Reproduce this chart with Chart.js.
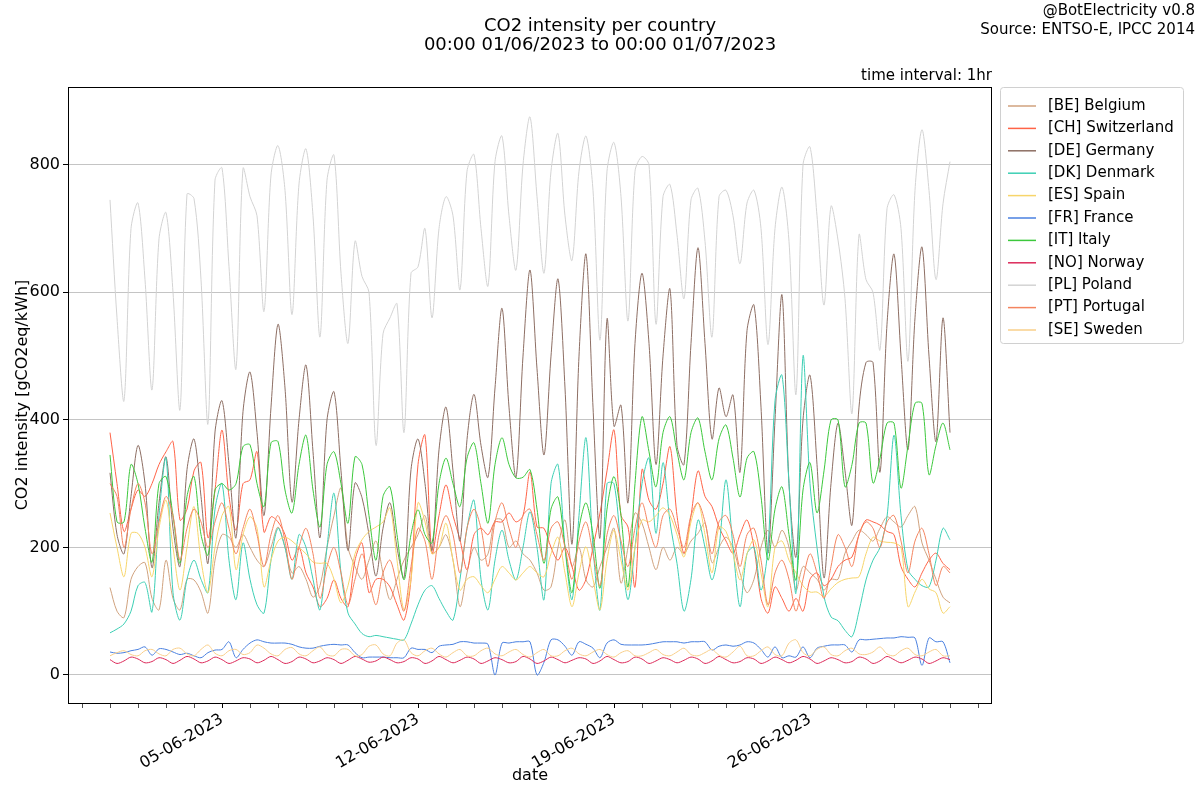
<!DOCTYPE html>
<html>
<head>
<meta charset="utf-8">
<script src="https://cdn.jsdelivr.net/npm/chart.js@4.4.0/dist/chart.umd.min.js"></script>
<style>
  body { margin: 0; background: #fff; }
</style>
</head>
<body>
<canvas id="co2Chart" width="1200" height="800"></canvas>
<script>
// one value every 6 hours, starting 00:00 01/06/2023
const stepHours = 6;

const countries = ['[BE] Belgium', '[CH] Switzerland', '[DE] Germany', '[DK] Denmark', '[ES] Spain',
  '[FR] France', '[IT] Italy', '[NO] Norway', '[PL] Poland', '[PT] Portugal', '[SE] Sweden'];
const colors = ['#d0a27e', '#ff6347', '#8d6e63', '#3ccfb4', '#f7d56a',
  '#4a80e0', '#3cc83c', '#dc2a5a', '#d3d3d3', '#f4845f', '#f9cf8a'];

const beValues = [137,100,90,150, 170,176,120,102, 180,120,102,150, 149,130,97,180, 220,216,200,220,
  200,180,170,200, 232,200,160,170, 150,122,140,200, 250,293,200,170, 150,180,210,160,
  118,150,180,200, 220,250,191,200, 220,180,107,160, 200,180,190,243, 243,200,210,190,
  180,160,133,138, 200,243,170,200, 149,138,170,200, 230,144,200,254, 238,200,165,200,
  180,200,190,210, 222,238,176,200, 216,200,160,129, 150,200,227,200, 227,200,133,170,
  160,150,133,150, 150,191,210,227, 220,210,230,248, 240,232,250,264, 207,180,150,122, 113];
const chValues = [380,300,225,260, 290,280,300,330, 350,366,243,260, 320,333,215,290, 384,280,227,300,
  306,350,224,248, 240,220,180,200, 160,138,107,120, 149,120,107,180, 207,129,150,150,
  138,110,86,150, 330,376,191,250, 298,250,212,165, 220,230,220,240, 240,254,240,250,
  318,232,230,200, 180,200,170,133, 150,200,254,320, 384,250,232,138, 322,274,260,300,
  358,250,191,250, 320,280,264,232, 210,191,220,243, 200,120,97,138, 120,100,120,100,
  150,160,140,150, 170,180,185,220, 243,240,235,225, 220,170,150,138, 160,180,191,175, 165];
const deValues = [317,220,190,280, 360,300,168,270, 342,230,170,322, 370,280,175,381, 430,330,215,413,
  475,380,250,420, 550,450,271,400, 486,350,215,400, 444,320,195,301, 278,220,155,230,
  270,200,152,322, 370,300,195,353, 420,320,210,369, 440,360,310,450, 575,420,310,500,
  635,480,345,500, 621,450,205,500, 660,420,215,558, 390,423,270,520, 630,520,330,500,
  605,360,330,520, 670,520,370,450, 405,439,318,540, 580,420,191,400, 596,300,185,400,
  470,330,152,300, 395,320,235,420, 490,490,318,550, 660,500,353,560, 671,500,366,560, 380];
const dkValues = [66,72,80,100, 140,145,99,250, 340,129,86,150, 180,150,129,260, 300,180,118,207,
  150,110,97,180, 230,200,150,220, 200,150,102,200, 285,160,97,80, 65,60,62,60,
  58,56,55,80, 110,133,140,120, 100,86,150,230, 274,150,102,180, 227,180,149,200,
  256,200,118,300, 330,200,118,250, 372,200,102,300, 300,200,118,200, 300,340,222,333,
  240,175,100,150, 243,200,149,200, 306,200,107,190, 200,133,200,430, 470,300,129,500,
  300,200,123,91, 85,70,60,100, 149,180,200,248, 376,250,165,150, 140,138,180,230, 212];
const esValues = [254,200,154,222, 222,200,154,230, 274,200,133,200, 264,180,129,200, 250,264,165,220,
  248,230,138,180, 210,216,210,200, 190,177,175,175, 150,113,140,190, 212,225,232,240,
  262,180,102,150, 270,240,190,200, 238,180,133,150, 154,140,129,150, 170,160,149,160,
  170,160,154,190, 216,160,107,160, 201,150,102,180, 227,180,133,200, 243,240,250,262,
  250,220,185,240, 270,220,160,232, 225,190,149,190, 212,160,107,200, 210,180,160,140,
  130,130,123,135, 145,150,152,154, 190,216,210,208, 207,200,107,130, 150,135,129,97, 107];
const frValues = [36,34,35,38, 40,44,31,41, 40,36,32,34, 30,27,35,39, 40,52,27,40,
  50,55,52,50, 50,50,48,44, 42,42,45,47, 48,47,47,35, 27,28,28,28,
  27,27,27,42, 40,40,35,45, 47,48,52,52, 50,50,48,0, 50,50,52,52,
  52,0,20,55, 55,45,31,52, 48,42,27,50, 55,48,47,47, 47,48,50,52,
  52,52,50,52, 52,52,39,45, 47,45,47,52, 50,40,28,44, 27,30,28,44,
  27,42,45,47, 47,47,36,55, 55,56,57,58, 58,60,59,58, 15,58,52,52, 19];
const itValues = [345,240,240,330, 300,230,177,300, 311,250,175,280, 311,220,188,290, 300,290,300,358,
  361,300,264,364, 366,290,254,330, 376,290,232,330, 350,300,238,342, 330,250,180,280,
  295,220,149,220, 259,220,207,300, 340,300,264,340, 364,300,238,330, 372,330,309,310,
  322,260,175,260, 279,200,129,230, 270,220,136,260, 311,250,138,300, 405,350,295,380,
  405,350,306,380, 403,350,306,370, 392,340,279,340, 350,280,180,260, 295,220,149,290,
  333,254,320,400, 400,295,330,395, 395,301,340,395, 395,293,360,426, 426,314,360,395, 353];
const noValues = [24,18,22,28, 25,19,21,27, 24,18,23,29, 25,19,22,28, 24,18,22,27,
  25,19,23,29, 24,18,21,28, 25,19,22,27, 24,18,23,29, 25,20,22,28,
  24,19,21,27, 25,18,22,29, 24,19,23,28, 25,18,22,27, 24,19,21,29,
  25,18,22,28, 24,19,23,27, 25,18,22,29, 24,19,21,28, 25,18,22,27,
  24,19,23,28, 25,18,22,29, 24,19,21,27, 25,18,22,28, 24,19,23,29,
  25,18,22,27, 24,19,21,28, 25,18,22,29, 24,19,23,28, 25,18,22,27, 24];
const plValues = [745,560,430,700, 740,620,447,684, 725,600,416,754, 747,620,394,776, 795,640,480,794,
  750,720,570,784, 830,760,565,770, 825,720,530,776, 815,630,520,680, 625,600,360,535,
  560,582,380,630, 640,700,560,700, 750,720,604,790, 816,700,610,805, 845,720,635,800,
  875,750,630,790, 849,720,650,790, 845,760,525,790, 835,750,555,790, 813,800,550,750,
  769,690,590,745, 763,680,530,750, 760,720,645,740, 760,700,518,700, 765,680,440,800,
  828,720,580,735, 682,590,410,690, 620,600,510,731, 753,700,492,760, 855,760,620,739, 805];
const ptValues = [300,280,200,260, 300,270,190,240, 280,250,180,230, 260,240,200,240, 270,230,190,230,
  260,220,170,220, 250,210,150,200, 230,190,120,170, 200,160,110,150, 190,150,110,160,
  180,140,100,170, 230,210,150,220, 250,220,160,230, 260,230,170,240, 270,230,200,250,
  260,220,180,230, 240,200,150,210, 240,190,140,220, 250,210,170,230, 270,230,200,250,
  260,230,200,250, 270,240,190,240, 250,220,170,220, 230,180,110,160, 180,150,100,150,
  190,160,120,170, 220,200,170,220, 240,230,200,240, 250,210,160,210, 230,190,140,170, 160];
const seValues = [30,35,38,32, 30,38,40,33, 30,40,42,33, 30,40,47,34, 30,38,40,32,
  35,47,42,33, 30,40,43,33, 30,38,44,32, 30,40,40,30, 32,45,47,33,
  30,50,55,35, 30,38,42,33, 28,35,40,30, 30,38,42,33, 30,36,40,32,
  28,35,40,30, 30,38,42,33, 30,36,40,32, 28,35,38,30, 30,35,40,32,
  30,36,42,32, 30,35,40,31, 28,36,45,30, 30,38,44,32, 30,50,55,35,
  30,40,44,32, 30,38,42,33, 32,36,44,33, 30,38,42,32, 30,36,40,30, 30];

const seriesValues = [beValues, chValues, deValues, dkValues, esValues,
  frValues, itValues, noValues, plValues, ptValues, seValues];

// x axis: hours since 01/06 00:00, one minor tick a day, labelled weekly
const labelDays = [4, 11, 18, 25];
const dateLabels = ['05-06-2023', '12-06-2023', '19-06-2023', '26-06-2023'];
const yTicks = [0, 200, 400, 600, 800];

const FONT = "'DejaVu Sans', sans-serif";

const decorPlugin = {
  id: 'decor',
  afterDraw(chart) {
    const ctx = chart.ctx;
    const a = chart.chartArea;
    ctx.save();
    // frame
    ctx.strokeStyle = '#000';
    ctx.lineWidth = 1;
    ctx.strokeRect(Math.round(a.left) + 0.5, Math.round(a.top) + 0.5,
      Math.round(a.right - a.left) - 1, Math.round(a.bottom - a.top));

    // titles (figure-centred, like suptitle)
    ctx.fillStyle = '#000';
    ctx.textBaseline = 'middle';
    ctx.textAlign = 'center';
    ctx.font = '18px ' + FONT;
    ctx.fillText('CO2 intensity per country', 600, 26);
    ctx.fillText('00:00 01/06/2023 to 00:00 01/07/2023', 600, 45);

    ctx.font = '15px ' + FONT;
    ctx.textAlign = 'right';
    ctx.fillText('@BotElectricity v0.8', 1195, 11);
    ctx.fillText('Source: ENTSO-E, IPCC 2014', 1195, 30);
    ctx.fillText('time interval: 1hr', a.right, 76);

    // legend
    const lx = 1000, ly = 87, lw = 183, lh = 256;
    ctx.beginPath();
    ctx.roundRect(lx + 0.5, ly + 0.5, lw, lh, 3);
    ctx.fillStyle = 'rgba(255,255,255,0.85)';
    ctx.fill();
    ctx.strokeStyle = '#d0d0d0';
    ctx.stroke();
    ctx.textAlign = 'left';
    chart.data.datasets.forEach((ds, i) => {
      const y = 106 + i * 22.4;
      ctx.strokeStyle = ds.borderColor;
      ctx.lineWidth = 1.5;
      ctx.beginPath();
      ctx.moveTo(1008, y);
      ctx.lineTo(1036, y);
      ctx.stroke();
      ctx.fillStyle = '#000';
      ctx.fillText(ds.label, 1048, y);
    });
    ctx.restore();
  }
};

const ctx = document.getElementById('co2Chart').getContext('2d');
const co2Chart = new Chart(ctx, {
  type: 'line',
  data: {
    datasets: countries.map((name, i) => ({
      label: name,
      data: seriesValues[i].map((v, k) => ({ x: k * stepHours, y: v })),
      borderColor: colors[i],
      backgroundColor: colors[i],
      borderWidth: 1,
      pointRadius: 0,
      fill: false,
      tension: 0.3,
      order: countries.length - i
    }))
  },
  options: {
    responsive: false,
    animation: false,
    devicePixelRatio: 1,
    layout: { padding: { left: 0, top: 87, right: 208, bottom: 0 } },
    plugins: {
      legend: { display: false },
      title: { display: false },
      tooltip: { enabled: false }
    },
    scales: {
      x: {
        type: 'linear',
        min: -36,
        max: 756,
        afterBuildTicks: scale => {
          const t = [];
          for (let d = -1; d <= 31; d++) t.push({ value: d * 24 });
          scale.ticks = t;
        },
        afterFit: scale => { scale.height = 97; },
        ticks: {
          autoSkip: false,
          minRotation: 30,
          maxRotation: 30,
          padding: 2,
          color: '#000',
          font: { family: FONT, size: 16 },
          callback: value => {
            const k = labelDays.indexOf(Math.round(value / 24));
            return k >= 0 ? dateLabels[k] : '';
          }
        },
        grid: {
          drawOnChartArea: false,
          drawTicks: true,
          tickLength: 5,
          tickColor: '#000',
          tickWidth: c => (c.tick && labelDays.includes(Math.round(c.tick.value / 24))) ? 1 : 0.7
        },
        border: { display: false },
        title: {
          display: true,
          text: 'date',
          color: '#000',
          font: { family: FONT, size: 16 },
          padding: { top: 0, bottom: 15 }
        }
      },
      y: {
        min: -44,
        max: 922,
        afterBuildTicks: scale => { scale.ticks = yTicks.map(v => ({ value: v })); },
        afterFit: scale => { scale.width = 68; },
        ticks: {
          padding: 3,
          color: '#000',
          font: { family: FONT, size: 16 }
        },
        grid: {
          color: '#c4c4c4',
          lineWidth: 1,
          drawTicks: true,
          tickLength: 5,
          tickColor: '#000'
        },
        border: { display: false },
        title: {
          display: true,
          text: 'CO2 intensity [gCO2eq/kWh]',
          color: '#000',
          font: { family: FONT, size: 16 },
          padding: { top: 13, bottom: 0 }
        }
      }
    }
  },
  plugins: [decorPlugin]
});
</script>
</body>
</html>
